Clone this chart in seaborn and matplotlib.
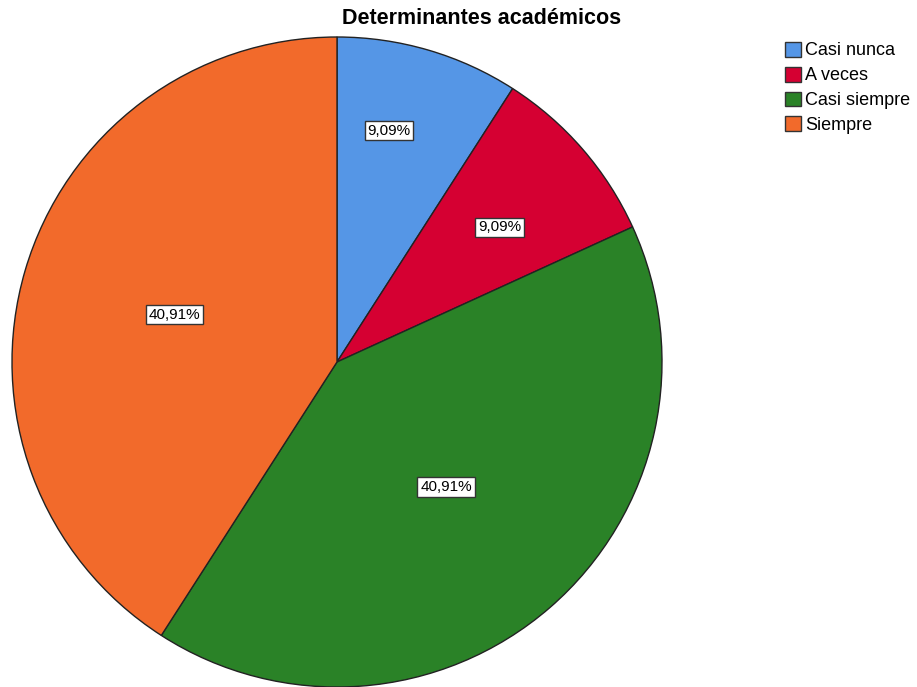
import numpy as np
import matplotlib
matplotlib.use("Agg")
import matplotlib.pyplot as plt
import seaborn as sns
from matplotlib.patches import Patch

# Data
categories = ["Casi nunca", "A veces", "Casi siempre", "Siempre"]
percents = [9.09, 9.09, 40.91, 40.91]
pct_labels = ["9,09%", "9,09%", "40,91%", "40,91%"]
colors = ["#5596e6", "#d50032", "#2a8227", "#f26a2b"]

sns.set_style("white")
plt.rcParams["font.family"] = ["Liberation Sans", "DejaVu Sans"]
plt.rcParams["text.color"] = "black"

fig = plt.figure(figsize=(9.17, 6.87), dpi=100)
ax = fig.add_axes([12 / 917, 0.0, 650 / 917, 650 / 687])

wedges, _ = ax.pie(percents, colors=colors, startangle=90, counterclock=False,
                   radius=1.0, wedgeprops=dict(edgecolor="#222222", linewidth=1.0))
ax.set_xlim(-1.0, 1.0)
ax.set_ylim(-1.0, 1.0)
ax.set_aspect("equal")
ax.axis("off")

# label placement (fraction of radius, degrees off the slice middle) as in the original
label_r = [0.73, 0.65, 0.51, 0.52]
label_shift = [3.7, -1.3, 0.2, 0.1]
for w, lab, r, d in zip(wedges, pct_labels, label_r, label_shift):
    ang = np.deg2rad((w.theta1 + w.theta2) / 2 + d)
    ax.text(r * np.cos(ang), r * np.sin(ang), lab, ha="center", va="center",
            fontsize=11, color="black",
            bbox=dict(boxstyle="square,pad=0.18", facecolor="white",
                      edgecolor="#333333", linewidth=1.0))

fig.text(482 / 917, 1 - 19 / 687, "Determinantes académicos", ha="center",
         va="center", fontsize=15.5, fontweight="bold", color="black")

handles = [Patch(facecolor=c, edgecolor="#333333", linewidth=1.0) for c in colors]
fig.legend(handles, categories, loc="upper left", bbox_to_anchor=(781 / 917, 1 - 38 / 687),
           frameon=False, fontsize=13, handlelength=0.9, handleheight=0.9,
           handletextpad=0.25, labelspacing=0.4, borderaxespad=0, borderpad=0.2,
           labelcolor="black")

fig.savefig("out.png", dpi=100)
